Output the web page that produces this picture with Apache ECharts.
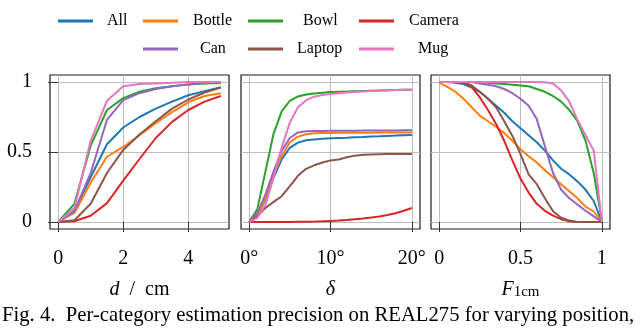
<!DOCTYPE html>
<html>
<head>
<meta charset="utf-8">
<script src="https://cdn.jsdelivr.net/npm/echarts@6/dist/echarts.min.js"></script>
<style>html,body{margin:0;padding:0;background:#fff;}#c{width:640px;height:334px;}</style>
</head>
<body>
<div id="c"></div>
<script>
// ---- data ----
const categories = ['All', 'Bottle', 'Bowl', 'Camera', 'Can', 'Laptop', 'Mug'];

// panel 1: position error d / cm
const posX = [0, 0.5, 1, 1.5, 2, 2.5, 3, 3.5, 4, 4.5, 5];
const posAll    = [0, 0.08, 0.32, 0.555, 0.675, 0.75, 0.81, 0.86, 0.905, 0.935, 0.962];
const posBottle = [0, 0.065, 0.28, 0.466, 0.536, 0.62, 0.705, 0.785, 0.855, 0.90, 0.92];
const posBowl   = [0, 0.13, 0.545, 0.80, 0.885, 0.93, 0.955, 0.97, 0.983, 0.99, 0.993];
const posCamera = [0, 0.005, 0.045, 0.135, 0.295, 0.45, 0.60, 0.715, 0.80, 0.86, 0.90];
const posCan    = [0, 0.075, 0.35, 0.73, 0.87, 0.92, 0.95, 0.97, 0.983, 0.993, 1.0];
const posLaptop = [0, 0.012, 0.13, 0.35, 0.515, 0.625, 0.72, 0.81, 0.875, 0.925, 0.96];
const posMug    = [0, 0.10, 0.58, 0.866, 0.97, 0.985, 0.99, 0.995, 1.0, 1.0, 1.0];

// panel 2: rotation error delta / deg
const rotX = [0, 1, 2, 3, 4, 5, 6, 7, 8, 9, 10, 11, 12, 13, 14, 15, 16, 17, 18, 19, 20];
const rotAll    = [0, 0.04, 0.16, 0.316, 0.447, 0.53, 0.567, 0.584, 0.59, 0.595, 0.598, 0.60, 0.602, 0.605, 0.607, 0.61, 0.612, 0.615, 0.617, 0.62, 0.622];
const rotBottle = [0, 0.04, 0.17, 0.34, 0.47, 0.57, 0.61, 0.627, 0.634, 0.635, 0.636, 0.637, 0.637, 0.638, 0.638, 0.638, 0.639, 0.639, 0.64, 0.64, 0.64];
const rotBowl   = [0, 0.09, 0.36, 0.63, 0.79, 0.866, 0.897, 0.91, 0.918, 0.924, 0.928, 0.93, 0.932, 0.934, 0.936, 0.938, 0.94, 0.941, 0.942, 0.944, 0.945];
const rotCamera = [0, 0, 0, 0, 0, 0, 0.001, 0.002, 0.003, 0.005, 0.008, 0.011, 0.015, 0.02, 0.025, 0.032, 0.04, 0.05, 0.063, 0.08, 0.10];
const rotCan    = [0, 0.065, 0.196, 0.36, 0.51, 0.60, 0.64, 0.648, 0.65, 0.65, 0.651, 0.651, 0.652, 0.652, 0.653, 0.653, 0.653, 0.654, 0.654, 0.655, 0.655];
const rotLaptop = [0, 0.04, 0.10, 0.144, 0.184, 0.256, 0.33, 0.38, 0.405, 0.425, 0.44, 0.447, 0.462, 0.474, 0.48, 0.483, 0.484, 0.485, 0.485, 0.486, 0.486];
const rotMug    = [0, 0.03, 0.12, 0.316, 0.53, 0.71, 0.82, 0.87, 0.895, 0.907, 0.914, 0.92, 0.925, 0.929, 0.932, 0.935, 0.937, 0.94, 0.942, 0.944, 0.945];

// panel 3: F-score at 1 cm
const fX = [0, 0.05, 0.1, 0.15, 0.2, 0.25, 0.3, 0.35, 0.4, 0.45, 0.5, 0.55, 0.6, 0.65, 0.7, 0.75, 0.8, 0.85, 0.9, 0.95, 1];
const fAll    = [1, 1, 0.995, 0.985, 0.96, 0.93, 0.88, 0.83, 0.78, 0.72, 0.67, 0.62, 0.57, 0.51, 0.44, 0.38, 0.34, 0.29, 0.23, 0.15, 0];
const fBottle = [0.995, 0.965, 0.93, 0.88, 0.82, 0.76, 0.72, 0.68, 0.635, 0.58, 0.52, 0.47, 0.425, 0.37, 0.32, 0.27, 0.22, 0.17, 0.11, 0.075, 0];
const fBowl   = [1, 1, 1, 1, 1, 0.998, 0.995, 0.99, 0.985, 0.98, 0.975, 0.97, 0.95, 0.93, 0.90, 0.86, 0.80, 0.72, 0.58, 0.35, 0.01];
const fCamera = [1, 1, 1, 0.995, 0.965, 0.89, 0.80, 0.70, 0.58, 0.44, 0.31, 0.21, 0.13, 0.08, 0.045, 0.02, 0.005, 0, 0, 0, 0];
const fCan    = [1, 1, 1, 1, 1, 0.99, 0.98, 0.97, 0.95, 0.92, 0.88, 0.83, 0.735, 0.54, 0.35, 0.23, 0.17, 0.125, 0.08, 0.04, 0];
const fLaptop = [1, 1, 1, 1, 0.975, 0.93, 0.88, 0.82, 0.72, 0.615, 0.485, 0.34, 0.27, 0.17, 0.077, 0.03, 0.01, 0, 0, 0, 0];
const fMug    = [1, 1, 1, 1, 1, 1, 1, 1, 1, 1, 1, 1, 1, 0.998, 0.99, 0.94, 0.86, 0.73, 0.62, 0.51, 0];

const yTicks = [0, 0.5, 1];
const posTicks = [0, 2, 4];
const rotTicks = [0, 10, 20];
const fTicks = [0, 0.5, 1];
const caption = 'Fig. 4.  Per-category estimation precision on REAL275 for varying position,';

// ---- styles ----
const colors = ['#1f77b4', '#ff7f0e', '#2ca02c', '#d62728', '#9467bd', '#8c564b', '#e377c2'];
const FONT = 'Liberation Serif';
const panels = [
  { xs: posX, ys: [posAll, posBottle, posBowl, posCamera, posCan, posLaptop, posMug] },
  { xs: rotX, ys: [rotAll, rotBottle, rotBowl, rotCamera, rotCan, rotLaptop, rotMug] },
  { xs: fX,   ys: [fAll, fBottle, fBowl, fCamera, fCan, fLaptop, fMug] }
];

const gridLefts = [50, 241, 431];
const grids = gridLefts.map(l => ({
  left: l, top: 75, width: 179, height: 154,
  show: true, borderColor: '#1a1a1a', borderWidth: 1.2, backgroundColor: 'transparent'
}));

const splitStyle = { show: true, lineStyle: { color: '#bdbdbd', width: 1 } };
const tickStyle = { show: true, length: 10, lineStyle: { color: '#333', width: 1 } };
const labelBase = { fontFamily: FONT, fontSize: 20, color: '#000' };
const nameBase = { fontFamily: FONT, fontSize: 20, color: '#000',
  rich: {
    i: { fontFamily: FONT, fontSize: 20, fontStyle: 'italic', color: '#000' },
    r: { fontFamily: FONT, fontSize: 20, color: '#000' },
    s: { fontFamily: FONT, fontSize: 15, color: '#000', padding: [5, 0, 0, 0], verticalAlign: 'bottom' }
  } };

const xRanges = [[-0.25, 5.25], [-1, 21], [-0.05, 1.05]];
const xTickSets = [posTicks, rotTicks, fTicks];
const xFormatters = [v => String(v), v => v + '°', v => String(v)];
const xNames = ['{i|d}{r|  /  cm}', '{i|δ}', '{i|F}{s|1cm}'];

const xAxes = [0, 1, 2].map(i => ({
  type: 'value', gridIndex: i, min: xRanges[i][0], max: xRanges[i][1],
  axisLine: { show: false },
  axisTick: Object.assign({ customValues: xTickSets[i] }, tickStyle),
  axisLabel: Object.assign({ customValues: xTickSets[i], formatter: xFormatters[i], margin: 20 }, labelBase),
  splitLine: splitStyle,
  name: xNames[i], nameLocation: 'middle', nameGap: 51, nameTextStyle: nameBase
}));

const yAxes = [0, 1, 2].map(i => ({
  type: 'value', gridIndex: i, min: -0.05, max: 1.05,
  axisLine: { show: false },
  axisTick: Object.assign({ customValues: yTicks }, tickStyle, { show: i === 0 }),
  axisLabel: Object.assign({ customValues: yTicks, show: i === 0, formatter: v => String(v), margin: 18 }, labelBase),
  splitLine: splitStyle
}));

const series = [];
panels.forEach((p, pi) => {
  categories.forEach((name, ci) => {
    series.push({
      type: 'line', name: name, xAxisIndex: pi, yAxisIndex: pi,
      data: p.xs.map((x, k) => [x, p.ys[ci][k]]),
      showSymbol: false, symbol: 'none', animation: false,
      color: colors[ci],
      lineStyle: { width: 2, color: colors[ci] },
      z: 2 + ci
    });
  });
});

// legend layout: one legend component per entry
const legendPos = [
  { left: 58, top: 12, pad: 9 },   // All
  { left: 143, top: 12, pad: 10 }, // Bottle
  { left: 248, top: 12, pad: 15 }, // Bowl
  { left: 359, top: 12, pad: 10 }, // Camera
  { left: 143, top: 40, pad: 17 }, // Can
  { left: 248, top: 40, pad: 9 },  // Laptop
  { left: 359, top: 40, pad: 19 }  // Mug
];
const legends = categories.map((name, i) => ({
  data: [name], left: legendPos[i].left, top: legendPos[i].top,
  padding: 0, itemGap: 0, itemWidth: 35, itemHeight: 3, icon: 'rect',
  selectedMode: false,
  textStyle: { fontFamily: FONT, fontSize: 16, color: '#000', lineHeight: 18,
    padding: [0, 0, 0, legendPos[i].pad] }
}));

const chart = echarts.init(document.getElementById('c'), null, { renderer: 'canvas' });
chart.setOption({
  animation: false,
  backgroundColor: '#fff',
  title: { text: caption, left: 2, top: 305, padding: 0,
    textStyle: { fontFamily: FONT, fontSize: 20.7, fontWeight: 'normal', color: '#000' } },
  legend: legends,
  grid: grids,
  xAxis: xAxes,
  yAxis: yAxes,
  series: series
});
</script>
</body>
</html>
